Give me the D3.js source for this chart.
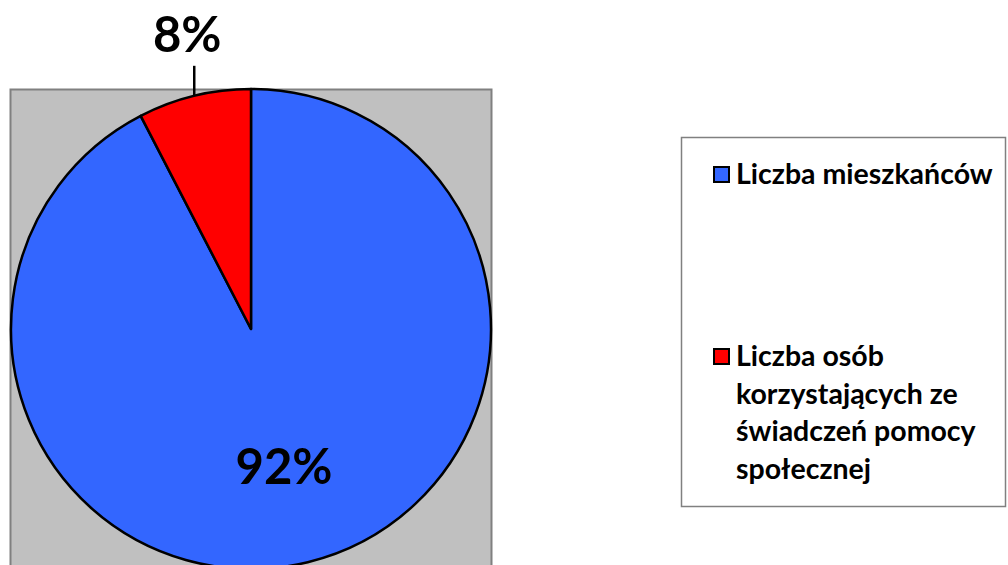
<!DOCTYPE html>
<html>
<head>
<meta charset="utf-8">
<script src="https://cdn.jsdelivr.net/npm/d3@7"></script>
<style>
  body { margin: 0; background: #fff; }
  svg { display: block; font-family: Lato, "Open Sans", sans-serif; font-weight: bold; }
</style>
</head>
<body>
<div id="chart"></div>
<script>
var categories = ["Liczba mieszkańców", "Liczba osób korzystających ze świadczeń pomocy społecznej"];
var values = [92.4, 7.6];
var labels = ["92%", "8%"];
var colors = ["#3366ff", "#ff0000"];
var legendLines = [["Liczba mieszkańców"], ["Liczba osób", "korzystających ze", "świadczeń pomocy", "społecznej"]];

function drawPie(element) {
    var width = 1008, height = 565;
    var cx = 251, cy = 329, radius = 240;

    var svg = d3.select(element)
        .append("svg")
        .attr("width", width)
        .attr("height", height);

    // plot area
    svg.append("rect")
        .attr("x", 10.5)
        .attr("y", 89.5)
        .attr("width", 481)
        .attr("height", 500)
        .attr("fill", "#c0c0c0")
        .attr("stroke", "#808080")
        .attr("stroke-width", 2);

    var pie = d3.pie().sort(null).value(function (d) { return d; });
    var arcs = pie(values);
    var arc = d3.arc().innerRadius(0).outerRadius(radius);

    var g = svg.append("g")
        .attr("transform", "translate(" + cx + "," + cy + ")");

    g.selectAll("path")
        .data(arcs)
        .enter()
        .append("path")
        .attr("d", arc)
        .attr("fill", function (d, i) { return colors[i]; })
        .attr("stroke", "#000")
        .attr("stroke-width", 2.5)
        .attr("stroke-linejoin", "round");

    // 92% label inside
    g.append("text")
        .attr("x", 33)
        .attr("y", 155)
        .attr("text-anchor", "middle")
        .attr("font-size", 49)
        .text(labels[0]);

    // 8% label outside with leader line
    var small = arcs[1];
    var mid = (small.startAngle + small.endAngle) / 2;
    var px = Math.sin(mid) * radius;
    var py = -Math.cos(mid) * radius;
    g.append("line")
        .attr("x1", px)
        .attr("y1", py)
        .attr("x2", px)
        .attr("y2", py - 30)
        .attr("stroke", "#000")
        .attr("stroke-width", 2.5);
    g.append("text")
        .attr("x", px - 7)
        .attr("y", py - 44)
        .attr("text-anchor", "middle")
        .attr("font-size", 49)
        .text(labels[1]);

    // legend
    var legend = svg.append("g");
    legend.append("rect")
        .attr("x", 681.5)
        .attr("y", 137.5)
        .attr("width", 324)
        .attr("height", 369)
        .attr("fill", "#fff")
        .attr("stroke", "#808080")
        .attr("stroke-width", 1.5);

    var itemY = [184, 366];
    legendLines.forEach(function (lines, i) {
        legend.append("rect")
            .attr("x", 714)
            .attr("y", itemY[i] - 17)
            .attr("width", 15)
            .attr("height", 15)
            .attr("fill", colors[i])
            .attr("stroke", "#000")
            .attr("stroke-width", 2);
        var t = legend.append("text")
            .attr("x", 736)
            .attr("y", itemY[i])
            .attr("font-size", 28.5);
        lines.forEach(function (line, j) {
            t.append("tspan")
                .attr("x", 736)
                .attr("dy", j === 0 ? 0 : 37.5)
                .text(line);
        });
    });
}

drawPie(document.getElementById("chart"));
</script>
</body>
</html>
